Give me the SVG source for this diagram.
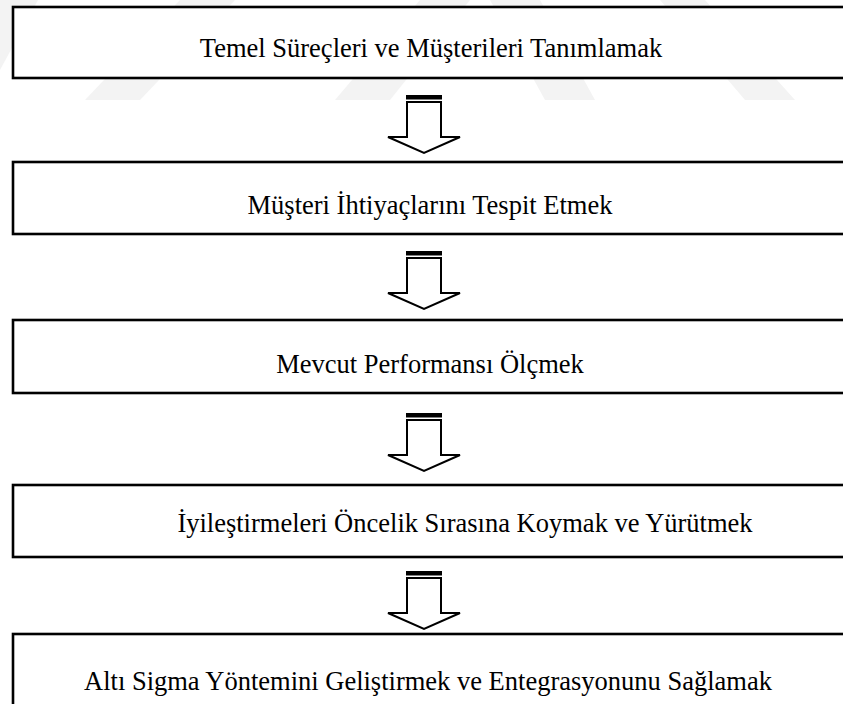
<svg xmlns="http://www.w3.org/2000/svg" width="843" height="704" viewBox="0 0 843 704">
<defs>
<style>
.box{fill:#fff;stroke:#000;stroke-width:2.6}
.lbl{font-family:"Liberation Serif","Times New Roman",serif;font-size:26.5px;fill:#000;text-anchor:middle}
.arr{fill:#fff;stroke:#000;stroke-width:2;stroke-linejoin:miter}
.band{fill:#000}
.wm{fill:#f3f3f3}
</style>
<g id="a">
<rect class="band" x="406" y="0" width="36" height="4.5"/>
<path class="arr" d="M407,7 L407,42 L388,42 L424,58 L460,42 L441,42 L441,7 Z"/>
</g>
</defs>
<rect width="843" height="704" fill="#fff"/>
<g id="watermark">
<polygon class="wm" points="0,0 38,0 0,70"/>
<polygon class="wm" points="180,0 235,0 140,100 85,100"/>
<polygon class="wm" points="420,0 470,0 390,100 335,100"/>
<polygon class="wm" points="490,0 540,0 595,100 545,100"/>
<polygon class="wm" points="660,0 705,0 795,100 745,100"/>
</g>
<g id="connectors">
<use href="#a" x="0" y="95"/>
<use href="#a" x="0" y="251"/>
<use href="#a" x="0" y="413"/>
<use href="#a" x="0" y="571"/>
</g>
<g id="n1"><rect class="box" x="13" y="7" width="900" height="71"/><text class="lbl" x="431" y="57">Temel Süreçleri ve Müşterileri Tanımlamak</text></g>
<g id="n2"><rect class="box" x="13" y="162" width="900" height="72"/><text class="lbl" x="430" y="214">Müşteri İhtiyaçlarını Tespit Etmek</text></g>
<g id="n3"><rect class="box" x="13" y="320" width="900" height="73"/><text class="lbl" x="430" y="373">Mevcut Performansı Ölçmek</text></g>
<g id="n4"><rect class="box" x="13" y="485" width="900" height="72"/><text class="lbl" x="465" y="532">İyileştirmeleri Öncelik Sırasına Koymak ve Yürütmek</text></g>
<g id="n5"><rect class="box" x="13" y="634" width="900" height="90"/><text class="lbl" x="428" y="690">Altı Sigma Yöntemini Geliştirmek ve Entegrasyonunu Sağlamak</text></g>
</svg>
